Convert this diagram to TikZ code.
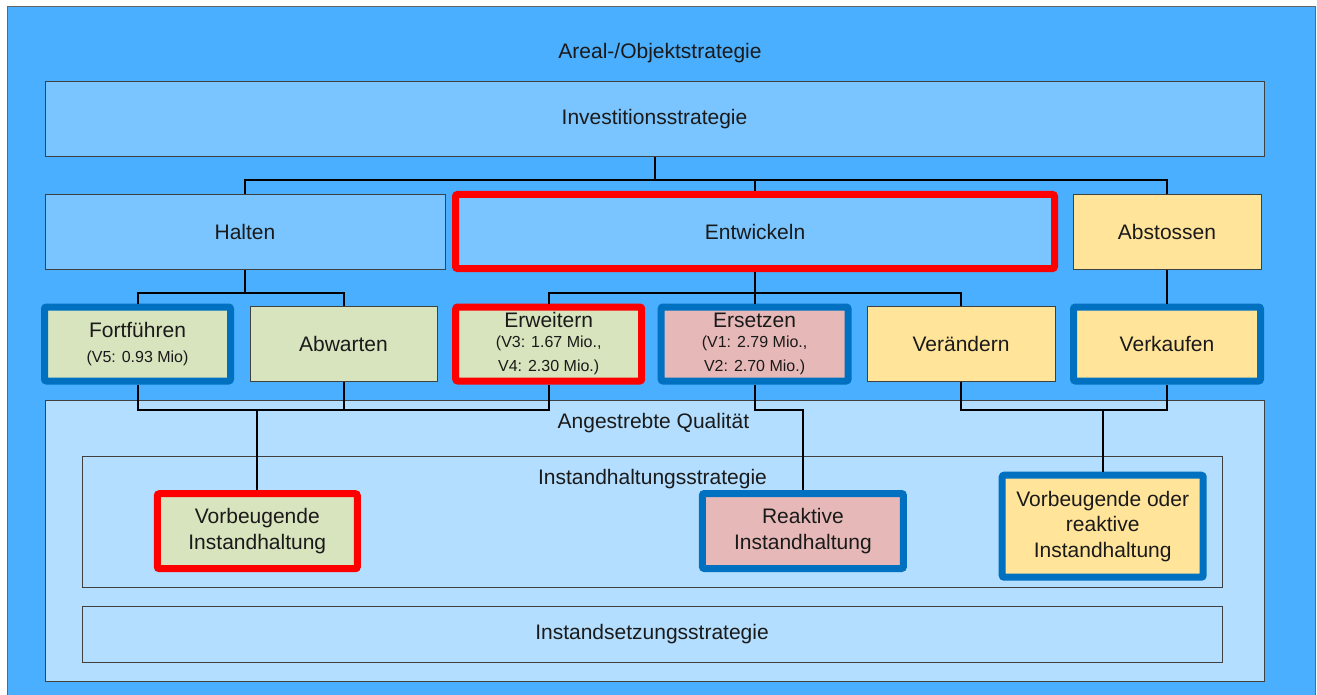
\documentclass[tikz,border=0pt]{standalone}
\usepackage{fontspec}
\setmainfont{Liberation Sans}
\definecolor{bgblue}{HTML}{4AAFFF}
\definecolor{midblue}{HTML}{7AC5FF}
\definecolor{paleblue}{HTML}{B3DEFF}
\definecolor{cgreen}{HTML}{D7E4BD}
\definecolor{cpink}{HTML}{E6B9B8}
\definecolor{cyellow}{HTML}{FFE49A}
\definecolor{cred}{HTML}{FF0000}
\definecolor{cblue}{HTML}{0070C0}
\definecolor{txt}{HTML}{1A1A1A}
\newcommand\smtxt{\fontsize{16}{24}\selectfont}
\tikzset{
  box/.style={draw=black!75, line width=1pt, inner sep=0pt, align=center,
    text=txt, font=\fontsize{21}{25.5}\selectfont},
  hotred/.style={draw=cred, line width=7pt, rounded corners=2pt},
  hotblue/.style={draw=cblue, line width=7pt, rounded corners=2pt},
  lbl/.style={inner sep=0pt, text=txt, font=\fontsize{21}{25.5}\selectfont},
  conn/.style={line width=2pt, draw=black},
}
\begin{document}
\begin{tikzpicture}[x=1pt,y=-1pt]
\clip (0,0) rectangle (1317,695);
\fill[white] (0,0) rectangle (1317,695);
% outer frame
\draw[draw=black!60, line width=1pt, fill=bgblue] (7,7) rectangle (1315,705);
\node[lbl] (title) at (660,53) {Areal-/Objektstrategie};

% top level
\node[box, fill=midblue, minimum width=1219, minimum height=75] (inv) at (654.5,118.8) {Investitionsstrategie};

% row 1
\node[box, fill=midblue, minimum width=400, minimum height=75] (halten) at (245,231.7) {Halten};
\node[box, fill=midblue, hotred, minimum width=599, minimum height=74] (entw) at (755,231.5) {Entwickeln};
\node[box, fill=cyellow, minimum width=188, minimum height=75] (abst) at (1167,231.7) {Abstossen};

% row 2
\node[box, fill=cgreen, hotblue, minimum width=186, minimum height=74] (fort) at (137.5,344) {Fortführen\\[-1pt]{\smtxt (V5: 0.93 Mio)}};
\node[box, fill=cgreen, minimum width=187, minimum height=75] (abw) at (343.5,343.5) {Abwarten};
\node[box, fill=cgreen, hotred, minimum width=186, minimum height=74] (erw) at (548.7,344) {Erweitern\\[-6pt]{\smtxt (V3: 1.67 Mio.,}\\[-1pt]{\smtxt V4: 2.30 Mio.)}};
\node[box, fill=cpink, hotblue, minimum width=187, minimum height=74] (ers) at (754.6,344) {Ersetzen\\[-6pt]{\smtxt (V1: 2.79 Mio.,}\\[-1pt]{\smtxt V2: 2.70 Mio.)}};
\node[box, fill=cyellow, minimum width=188, minimum height=75] (veraend) at (961,343.5) {Verändern};
\node[box, fill=cyellow, hotblue, minimum width=187, minimum height=74] (verk) at (1167,344) {Verkaufen};

% quality area
\node[box, fill=paleblue, minimum width=1219, minimum height=281] (qual) at (654.5,540.5) {};
\node[lbl] (qualtxt) at (653.4,423) {Angestrebte Qualität};
\node[box, fill=paleblue, minimum width=1140, minimum height=131] (ihs) at (652,521.5) {};
\node[lbl] (ihstxt) at (652.5,479) {Instandhaltungsstrategie};
\node[box, fill=paleblue, minimum width=1140, minimum height=56] (iss) at (652,634) {Instandsetzungsstrategie};

\node[box, fill=cgreen, hotred, minimum width=200, minimum height=75] (vorb) at (257.3,531.2) {Vorbeugende\\Instandhaltung};
\node[box, fill=cpink, hotblue, minimum width=201, minimum height=75] (reak) at (802.9,531) {Reaktive\\Instandhaltung};
\node[box, fill=cyellow, hotblue, minimum width=201, minimum height=102] (vorreak) at (1102.7,526.2) {Vorbeugende oder\\reaktive\\Instandhaltung};

% bus coordinates
\coordinate (busA) at (0,180);
\coordinate (busB) at (0,292.5);
\coordinate (busC) at (0,409.5);

% connectors level 0 -> 1
\draw[conn] (inv.south) -- (inv.south |- busA);
\draw[conn] (halten.north) |- (abst.north |- busA) -- (abst.north);
\draw[conn] (entw.north) -- (entw.north |- busA);

% connectors level 1 -> 2
\draw[conn] (halten.south) -- (halten.south |- busB);
\draw[conn] (fort.north) |- (abw.north |- busB) -- (abw.north);
\draw[conn] (entw.south) -- (entw.south |- busB);
\draw[conn] (erw.north) |- (veraend.north |- busB) -- (veraend.north);
\draw[conn] (ers.north) -- (ers.north |- busB);
\draw[conn] (abst.south) -- (verk.north);

% connectors level 2 -> maintenance
\draw[conn] (fort.south) |- (erw.south |- busC) -- (erw.south);
\draw[conn] (abw.south) -- (abw.south |- busC);
\draw[conn] (vorb.north) -- (vorb.north |- busC);
\draw[conn] (ers.south) |- (reak.north |- busC) -- (reak.north);
\draw[conn] (veraend.south) |- (verk.south |- busC) -- (verk.south);
\draw[conn] (vorreak.north) -- (vorreak.north |- busC);
\end{tikzpicture}
\end{document}
